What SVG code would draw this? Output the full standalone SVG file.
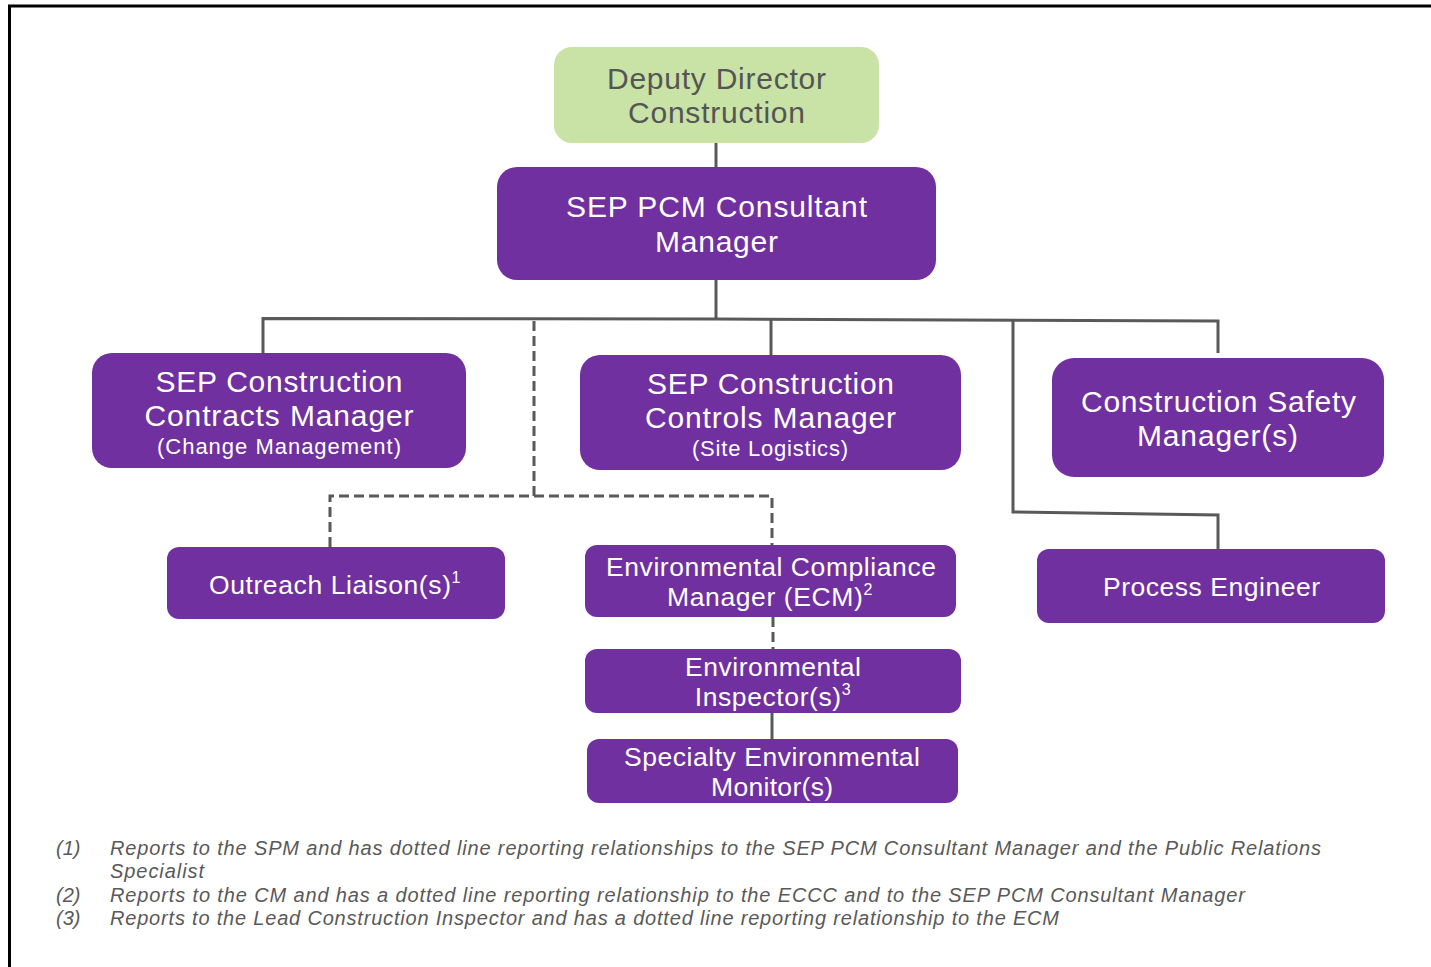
<svg xmlns="http://www.w3.org/2000/svg" width="1431" height="967" viewBox="0 0 1431 967">
<style>
.bx{fill:#7030a0}
.gr{fill:#c9e2a6}
.t{font-family:"Liberation Sans",Arial,sans-serif;fill:#ffffff;text-anchor:middle}
.dk{fill:#555555}
.s28{font-size:30px}
.s26{font-size:26.5px}
.s21{font-size:22px}
.ln{fill:none;stroke:#595959;stroke-width:3}
.ds{stroke-dasharray:10 5}
.fn{font-family:"Liberation Sans",Arial,sans-serif;font-style:italic;font-size:20px;fill:#595959}
</style>
<rect width="1431" height="967" fill="#ffffff"/>
<path d="M9.5,967 V6 H1431" fill="none" stroke="#000000" stroke-width="3"/>
<g id="connectors">
<path class="ln" d="M716,143 V167"/>
<path class="ln" d="M716,280 V319"/>
<path class="ln" d="M263,353 V318.5 L716,319 L1218,321 V353"/>
<path class="ln" d="M771,320 V355"/>
<path class="ln" d="M1013,320.5 V512 L1218,515 V549"/>
<path class="ln ds" d="M534,321 V496 M330,547 V496 H772 V545"/>
<path class="ln ds" d="M773,617 V649"/>
<path class="ln" d="M772,713 V739"/>
</g>
<g id="deputy">
<rect class="gr" x="554" y="47" width="325" height="96" rx="18"/>
<text class="t dk s28" x="716.5" y="89" textLength="219" lengthAdjust="spacing">Deputy Director</text>
<text class="t dk s28" x="716.5" y="123" textLength="177" lengthAdjust="spacing">Construction</text>
</g>
<g id="pcm">
<rect class="bx" x="497" y="167" width="439" height="113" rx="20"/>
<text class="t s28" x="716.5" y="217" textLength="301" lengthAdjust="spacing">SEP PCM Consultant</text>
<text class="t s28" x="716.5" y="252" textLength="123" lengthAdjust="spacing">Manager</text>
</g>
<g id="contracts">
<rect class="bx" x="92" y="353" width="374" height="115" rx="20"/>
<text class="t s28" x="279" y="392" textLength="247" lengthAdjust="spacing">SEP Construction</text>
<text class="t s28" x="279" y="426" textLength="269" lengthAdjust="spacing">Contracts Manager</text>
<text class="t s21" x="279" y="454" textLength="244" lengthAdjust="spacing">(Change Management)</text>
</g>
<g id="controls">
<rect class="bx" x="580" y="355" width="381" height="115" rx="20"/>
<text class="t s28" x="770.5" y="394" textLength="247" lengthAdjust="spacing">SEP Construction</text>
<text class="t s28" x="770.5" y="428" textLength="251" lengthAdjust="spacing">Controls Manager</text>
<text class="t s21" x="770" y="456" textLength="156" lengthAdjust="spacing">(Site Logistics)</text>
</g>
<g id="safety">
<rect class="bx" x="1052" y="358" width="332" height="119" rx="22"/>
<text class="t s28" x="1218.5" y="412" textLength="275" lengthAdjust="spacing">Construction Safety</text>
<text class="t s28" x="1217.5" y="446" textLength="161" lengthAdjust="spacing">Manager(s)</text>
</g>
<g id="outreach">
<rect class="bx" x="167" y="547" width="338" height="72" rx="12"/>
<text class="t s26" x="335" y="594" letter-spacing="0.6"><tspan>Outreach Liaison(s)</tspan><tspan font-size="16" dy="-11">1</tspan></text>
</g>
<g id="ecm">
<rect class="bx" x="585" y="545" width="371" height="72" rx="12"/>
<text class="t s26" x="771" y="576" textLength="330" lengthAdjust="spacing">Environmental Compliance</text>
<text class="t s26" x="770" y="606" letter-spacing="0.6"><tspan>Manager (ECM)</tspan><tspan font-size="16" dy="-11">2</tspan></text>
</g>
<g id="inspector">
<rect class="bx" x="585" y="649" width="376" height="64" rx="12"/>
<text class="t s26" x="773" y="676" textLength="176" lengthAdjust="spacing">Environmental</text>
<text class="t s26" x="773" y="706" letter-spacing="0.6"><tspan>Inspector(s)</tspan><tspan font-size="16" dy="-11">3</tspan></text>
</g>
<g id="specialty">
<rect class="bx" x="587" y="739" width="371" height="64" rx="12"/>
<text class="t s26" x="772" y="766" textLength="296" lengthAdjust="spacing">Specialty Environmental</text>
<text class="t s26" x="772" y="796" textLength="122" lengthAdjust="spacing">Monitor(s)</text>
</g>
<g id="process">
<rect class="bx" x="1037" y="549" width="348" height="74" rx="12"/>
<text class="t s26" x="1211.5" y="596" textLength="217" lengthAdjust="spacing">Process Engineer</text>
</g>
<g id="footnotes">
<text class="fn" x="56" y="855">(1)</text>
<text class="fn" x="110" y="855" textLength="1211" lengthAdjust="spacing">Reports to the SPM and has dotted line reporting relationships to the SEP PCM Consultant Manager and the Public Relations</text>
<text class="fn" x="110" y="878" textLength="94" lengthAdjust="spacing">Specialist</text>
<text class="fn" x="56" y="902">(2)</text>
<text class="fn" x="110" y="902" textLength="1135" lengthAdjust="spacing">Reports to the CM and has a dotted line reporting relationship to the ECCC and to the SEP PCM Consultant Manager</text>
<text class="fn" x="56" y="925">(3)</text>
<text class="fn" x="110" y="925" textLength="949" lengthAdjust="spacing">Reports to the Lead Construction Inspector and has a dotted line reporting relationship to the ECM</text>
</g>
</svg>
